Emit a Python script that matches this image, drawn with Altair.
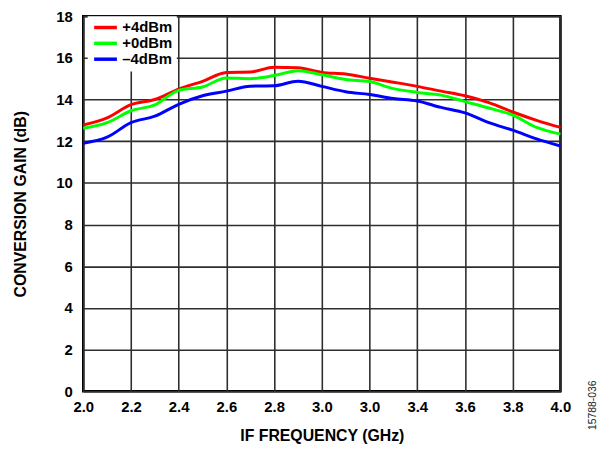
import altair as alt
import pandas as pd

freq = [2.0, 2.1, 2.2, 2.3, 2.4, 2.5, 2.6, 2.7, 2.8, 2.9, 3.0,
        3.1, 3.2, 3.3, 3.4, 3.5, 3.6, 3.7, 3.8, 3.9, 4.0]
gain_p4 = [12.78, 13.12, 13.75, 14.00, 14.50, 14.87, 15.30, 15.32, 15.55, 15.52, 15.30,
           15.22, 15.02, 14.83, 14.63, 14.40, 14.18, 13.85, 13.40, 13.00, 12.66]
gain_p0 = [12.62, 12.89, 13.46, 13.74, 14.44, 14.60, 15.03, 15.00, 15.15, 15.38, 15.19,
           14.96, 14.86, 14.52, 14.34, 14.21, 13.90, 13.59, 13.25, 12.66, 12.34]
gain_m4 = [11.90, 12.19, 12.89, 13.20, 13.77, 14.18, 14.40, 14.64, 14.66, 14.88, 14.63,
           14.37, 14.24, 14.05, 13.93, 13.62, 13.36, 12.89, 12.53, 12.11, 11.77]
series_names = ["+4dBm", "+0dBm", "\u20134dBm"]
series_colors = ["#FF0000", "#00FF00", "#0000FF"]
x_ticks = [2.0, 2.2, 2.4, 2.6, 2.8, 3.0, 3.2, 3.4, 3.6, 3.8, 4.0]
y_ticks = [0, 2, 4, 6, 8, 10, 12, 14, 16, 18]
note = "15788-036"

rows = []
for name, vals in zip(series_names, [gain_p4, gain_p0, gain_m4]):
    for f, g in zip(freq, vals):
        rows.append({"f": f, "g": g, "s": name})
df = pd.DataFrame(rows)

FONT = "Liberation Sans"

lines = alt.Chart(df).mark_line(strokeWidth=3, interpolate="monotone").encode(
    x=alt.X("f:Q", scale=alt.Scale(domain=[2.0, 4.0], nice=False),
            axis=alt.Axis(values=x_ticks, title="IF FREQUENCY (GHz)",
                          labelExpr="abs(datum.value - 3.2) < 0.01 ? '3.0' : format(datum.value, '.1f')",
                          labelFlush=False, labelPadding=8, titlePadding=14)),
    y=alt.Y("g:Q", scale=alt.Scale(domain=[0, 18], nice=False),
            axis=alt.Axis(values=y_ticks, title="CONVERSION GAIN (dB)",
                          labelFlush=False, labelPadding=11, titlePadding=28)),
    color=alt.Color("s:N", scale=alt.Scale(domain=series_names, range=series_colors),
                    sort=series_names,
                    legend=alt.Legend(title=None, orient="none", legendX=4.5, legendY=0,
                                      fillColor="white", padding=4,
                                      symbolType="M-1,0H3.6", symbolSize=100,
                                      symbolStrokeWidth=3.5, labelOffset=16,
                                      labelFont=FONT, labelFontSize=15,
                                      labelFontWeight="bold", labelColor="black",
                                      rowPadding=-4.5)),
    order=alt.Order("s:N", sort="descending"),
)

note_df = pd.DataFrame({"t": [note]})
side = alt.Chart(note_df).mark_text(angle=270, fontSize=10.5, font=FONT,
                                    color="#222222").encode(
    text="t:N", x=alt.value(515), y=alt.value(393))

chart = alt.layer(lines, side).properties(
    width=482, height=379,
    autosize=alt.AutoSizeParams(type="none"),
    padding={"left": 76, "top": 6, "right": 42, "bottom": 52},
).configure_view(stroke="black", strokeWidth=2.5).configure_axis(
    labelFont=FONT, labelFontSize=15, labelFontWeight="bold", labelColor="black",
    titleFont=FONT, titleFontSize=16, titleFontWeight="bold", titleColor="black",
    grid=True, gridColor="#2e2e2e", gridWidth=1.6, gridOpacity=1,
    domain=False, ticks=False, tickSize=0,
)

chart.save("out.html", embed_options={"renderer": "svg", "actions": False})
